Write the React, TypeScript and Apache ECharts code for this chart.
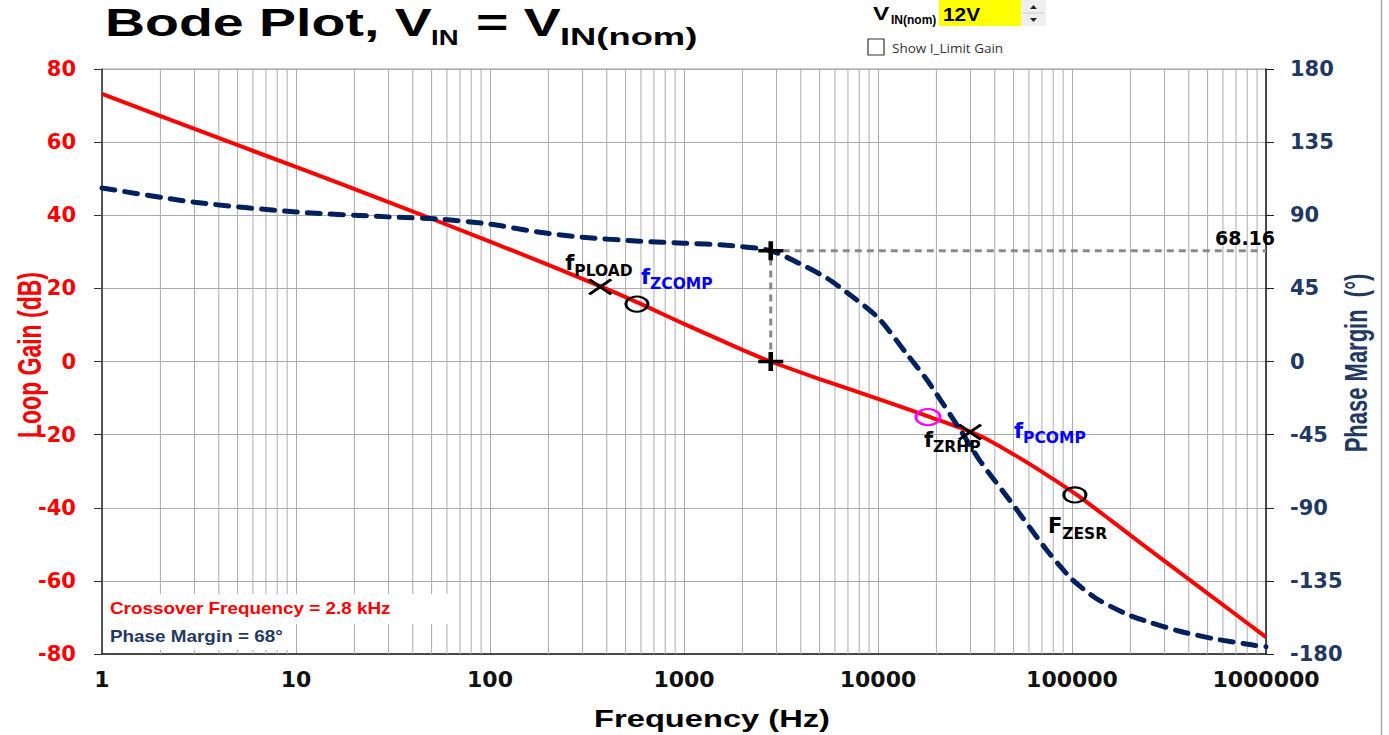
import React, { useEffect, useRef } from "react";
import * as echarts from "echarts";

// ---------- data ----------
const FREQ_MIN = 1;
const FREQ_MAX = 1000000;
const DECADES = [1, 10, 100, 1000, 10000, 100000];
const MINOR_MULTIPLIERS = [2, 3, 4, 5, 6, 7, 8, 9];

const GAIN_AXIS = [-80, 80, 20]; // min, max, interval
const PHASE_AXIS = [-180, 180, 45];

const GAIN_FREQ = [1, 3, 10, 30, 100, 200, 500, 1000, 2000, 2800, 5000, 10000, 18600, 33500, 50000, 74000, 106000, 160000, 220000, 500000, 1000000];
const GAIN_DB = [73.2, 63.6, 53.2, 43.6, 32.8, 26.4, 17.6, 10.3, 3.2, 0, -4.8, -10.2, -15.2, -20.3, -25.4, -31.0, -36.5, -43.6, -49.2, -63.4, -75.4];

const PHASE_FREQ = [1, 3, 10, 30, 57, 100, 181, 300, 593, 1000, 1660, 2800, 4300, 5500, 7000, 10000, 14000, 17900, 26500, 33500, 49600, 74000, 100000, 134000, 192000, 244000, 360000, 533000, 857000, 1000000];
const PHASE_DEG = [106.8, 98, 92, 89, 87.5, 84.5, 79.5, 76.5, 74, 72.8, 71.5, 68.16, 58, 51, 42, 27, 5, -11.4, -42, -61, -88, -116, -134, -146, -155.5, -160, -166, -170.5, -174.5, -175.5];

const CROSSOVER_FREQ = 2800;
const PHASE_MARGIN = 68.16;

const MARKER_NAMES = ["PLOAD", "ZCOMP", "ZRHP", "PCOMP", "ZESR"];
const MARKER_PREFIX = ["f", "f", "f", "f", "F"];
const MARKER_FREQ = [370, 572, 18100, 29800, 103500];
const MARKER_GAIN = [20.4, 15.7, -15.2, -19.3, -36.5];

const TITLE_PARTS = ["Bode Plot, V", "IN", "= V", "IN(nom)"];
const VIN_NOM = "12V";

// ---------- styles (not data) ----------
const RED = "#ff0000";
const NAVY = "#1f3864";
const PHASE_COLOR = "#002060";
const GRID_COLOR = "#acacac";
const BLUE = "#0000ff";

const markerStyle: Record<string, any> = {
  PLOAD: { kind: "x", color: "#000", labelColor: "#000", offset: [-35, -23] },
  ZCOMP: { kind: "o", color: "#000", labelColor: BLUE, offset: [4, -27] },
  ZRHP: { kind: "o", color: "#ff00ff", labelColor: "#000", offset: [-4, 23] },
  PCOMP: { kind: "x", color: "#000", labelColor: BLUE, offset: [44, -1] },
  ZESR: { kind: "o", color: "#000", labelColor: "#000", offset: [-27, 32] },
};

const X_PATH = "path://M0,0L22,15M22,0L0,15";
const PLUS_PATH = "path://M0,9L24,9M12,0L12,18";

function buildOption(): any {
  const minorFreqs: number[][] = [];
  DECADES.forEach((d) => MINOR_MULTIPLIERS.forEach((m) => minorFreqs.push([d * m, 0])));

  const markerData = MARKER_NAMES.map((name, i) => {
    const st = markerStyle[name];
    const isX = st.kind === "x";
    return {
      value: [MARKER_FREQ[i], MARKER_GAIN[i]],
      symbol: isX ? X_PATH : "circle",
      symbolSize: isX ? [22, 15] : name === "ZRHP" ? [24, 16] : [22, 15],
      itemStyle: { color: "rgba(0,0,0,0)", borderColor: st.color, borderWidth: isX ? 3 : 2.5, opacity: 1 },
      label: {
        show: true,
        position: "inside",
        align: "left",
        verticalAlign: "middle",
        offset: st.offset,
        formatter: `{f|${MARKER_PREFIX[i]}}{s|${name}}`,
        rich: {
          f: { fontFamily: "DejaVu Sans", fontWeight: "bold", fontSize: 21, color: st.labelColor, verticalAlign: "top", lineHeight: 22 },
          s: { fontFamily: "DejaVu Sans", fontWeight: "bold", fontSize: 15.5, color: st.labelColor, verticalAlign: "top", lineHeight: 15, padding: [10, 0, 0, 0] },
        },
      },
    };
  });

  const axisFont = { fontFamily: "DejaVu Sans", fontWeight: "bold" };
  const T = (extra: any) => ({ align: "left", verticalAlign: "middle", textAlign: "left", textVerticalAlign: "middle", ...extra });
  const TC = (extra: any) => ({ align: "center", verticalAlign: "middle", textAlign: "center", textVerticalAlign: "middle", ...extra });

  const graphic: any[] = [
    // title
    { type: "text", x: 105, y: 23, scaleX: 1.46, style: T({ text: TITLE_PARTS[0], font: "bold 38px 'Liberation Sans', Arial", fill: "#000" }) },
    { type: "text", x: 431, y: 37, scaleX: 1.25, style: T({ text: TITLE_PARTS[1], font: "bold 22px 'Liberation Sans', Arial", fill: "#000" }) },
    { type: "text", x: 476, y: 23, scaleX: 1.46, style: T({ text: TITLE_PARTS[2], font: "bold 38px 'Liberation Sans', Arial", fill: "#000" }) },
    { type: "text", x: 560, y: 37, scaleX: 1.58, style: T({ text: TITLE_PARTS[3], font: "bold 23px 'Liberation Sans', Arial", fill: "#000" }) },
    // VIN(nom) widget
    { type: "text", x: 873, y: 14, scaleX: 1.35, style: T({ text: "V", font: "bold 18px 'Liberation Sans', Arial", fill: "#000" }) },
    { type: "text", x: 891, y: 20, style: T({ text: "IN(nom)", font: "bold 12px 'Liberation Sans', Arial", fill: "#000" }) },
    { type: "rect", shape: { x: 939, y: 0, width: 82, height: 26 }, style: { fill: "#ffff00" } },
    { type: "text", x: 943, y: 14, scaleX: 1.1, style: T({ text: VIN_NOM, font: "bold 19px 'Liberation Sans', Arial", fill: "#000" }) },
    { type: "rect", shape: { x: 1021, y: 0, width: 25, height: 26 }, style: { fill: "#efefef" } },
    { type: "line", shape: { x1: 1023, y1: 13, x2: 1044, y2: 13 }, style: { stroke: "#c8c8c8", lineWidth: 1 } },
    { type: "polygon", shape: { points: [[1030, 9], [1037, 9], [1033.5, 5]] }, style: { fill: "#222" } },
    { type: "polygon", shape: { points: [[1030, 18], [1037, 18], [1033.5, 22]] }, style: { fill: "#222" } },
    { type: "rect", shape: { x: 868, y: 39, width: 16, height: 16 }, style: { fill: "#fff", stroke: "#333", lineWidth: 1.2 } },
    { type: "text", x: 892, y: 48, style: T({ text: "Show I_Limit Gain", font: "13.5px 'Open Sans', 'Noto Sans', sans-serif", fill: "#333" }) },
    // right page border
    { type: "line", shape: { x1: 1381.5, y1: 0, x2: 1381.5, y2: 735 }, style: { stroke: "#a8a8a8", lineWidth: 1.5 } },
    // axis names
    { type: "text", x: 29, y: 355, rotation: Math.PI / 2, scaleY: 1.42, z: 50, style: TC({ text: "Loop Gain (dB)", font: "bold 23px 'Liberation Sans', Arial", fill: RED }) },
    { type: "text", x: 1357, y: 363, rotation: Math.PI / 2, scaleY: 1.42, z: 50, style: TC({ text: "Phase Margin  (°)", font: "bold 22px 'Liberation Sans', Arial", fill: NAVY }) },
    { type: "text", x: 712, y: 719, scaleX: 1.42, z: 50, style: TC({ text: "Frequency (Hz)", font: "bold 23px 'Liberation Sans', Arial", fill: "#000" }) },
    // info boxes
    { type: "rect", z: 90, shape: { x: 103, y: 594, width: 345, height: 30 }, style: { fill: "#fff" } },
    { type: "rect", z: 90, shape: { x: 103, y: 624, width: 190, height: 26 }, style: { fill: "#fff" } },
    { type: "text", z: 91, x: 110, y: 609, scaleX: 1.18, style: T({ text: `Crossover Frequency = ${(CROSSOVER_FREQ / 1000).toFixed(1)} kHz`, font: "bold 16px 'Liberation Sans', Arial", fill: RED }) },
    { type: "text", z: 91, x: 110, y: 637, scaleX: 1.18, style: T({ text: `Phase Margin = ${Math.round(PHASE_MARGIN)}°`, font: "bold 16px 'Liberation Sans', Arial", fill: NAVY }) },
  ];

  return {
    animation: false,
    backgroundColor: "#fff",
    grid: { left: 102, right: 123, top: 69, bottom: 81, show: true, borderColor: "#9a9a9a", borderWidth: 1 },
    xAxis: {
      type: "log",
      logBase: 10,
      min: FREQ_MIN,
      max: FREQ_MAX,
      splitNumber: 6,
      axisLine: { show: true, onZero: false, lineStyle: { color: "#222", width: 1.5 } },
      axisTick: { show: false },
      axisLabel: { ...axisFont, fontSize: 22, color: "#111", margin: 14, formatter: (v: number) => String(Math.round(v)) },
      splitLine: { show: true, lineStyle: { color: GRID_COLOR, width: 1 } },
    },
    yAxis: [
      {
        type: "value",
        position: "left",
        min: GAIN_AXIS[0],
        max: GAIN_AXIS[1],
        interval: GAIN_AXIS[2],
        axisLine: { show: true, onZero: false, lineStyle: { color: "#333", width: 1.5 } },
        axisTick: { show: true, length: 8, lineStyle: { color: "#333" } },
        axisLabel: { ...axisFont, fontSize: 21, color: RED, margin: 26 },
        splitLine: { show: true, lineStyle: { color: GRID_COLOR, width: 1 } },
      },
      {
        type: "value",
        position: "right",
        min: PHASE_AXIS[0],
        max: PHASE_AXIS[1],
        interval: PHASE_AXIS[2],
        axisLine: { show: true, onZero: false, lineStyle: { color: "#222", width: 1.5 } },
        axisTick: { show: true, length: 8, lineStyle: { color: "#222" } },
        axisLabel: { ...axisFont, fontSize: 21, color: NAVY, margin: 24 },
        splitLine: { show: false },
      },
    ],
    graphic,
    series: [
      {
        type: "custom",
        name: "minorGrid",
        silent: true,
        z: 1,
        xAxisIndex: 0,
        yAxisIndex: 0,
        encode: { x: 0, y: 1 },
        data: minorFreqs,
        renderItem: (params: any, api: any) => {
          const p = api.coord([api.value(0), 0]);
          const cs = params.coordSys;
          return {
            type: "line",
            shape: { x1: p[0], y1: cs.y, x2: p[0], y2: cs.y + cs.height },
            style: { stroke: GRID_COLOR, lineWidth: 1 },
            silent: true,
          };
        },
      },
      {
        type: "line",
        name: "crossVertical",
        yAxisIndex: 1,
        z: 2,
        showSymbol: false,
        silent: true,
        data: [[CROSSOVER_FREQ, 0], [CROSSOVER_FREQ, PHASE_MARGIN]],
        lineStyle: { color: "#8a8a8a", width: 3, type: [7, 5] },
      },
      {
        type: "line",
        name: "pmHorizontal",
        yAxisIndex: 1,
        z: 2,
        showSymbol: false,
        silent: true,
        data: [[CROSSOVER_FREQ, PHASE_MARGIN], [FREQ_MAX, PHASE_MARGIN]],
        lineStyle: { color: "#8a8a8a", width: 3, type: [7, 5] },
      },
      {
        type: "line",
        name: "Loop Gain",
        yAxisIndex: 0,
        z: 3,
        showSymbol: false,
        smooth: 0.25,
        data: GAIN_FREQ.map((f, i) => [f, GAIN_DB[i]]),
        lineStyle: { color: RED, width: 4 },
      },
      {
        type: "line",
        name: "Phase",
        yAxisIndex: 1,
        z: 3,
        showSymbol: false,
        smooth: 0.25,
        data: PHASE_FREQ.map((f, i) => [f, PHASE_DEG[i]]),
        lineStyle: { color: PHASE_COLOR, width: 5, type: [13, 10], cap: "round" },
      },
      {
        type: "scatter",
        name: "crossMarkers",
        yAxisIndex: 1,
        z: 5,
        symbol: PLUS_PATH,
        symbolSize: [25, 19],
        itemStyle: { color: "rgba(0,0,0,0)", borderColor: "#000", borderWidth: 4, opacity: 1 },
        data: [[CROSSOVER_FREQ, 0], [CROSSOVER_FREQ, PHASE_MARGIN]],
      },
      {
        type: "scatter",
        name: "markers",
        yAxisIndex: 0,
        z: 5,
        itemStyle: { opacity: 1 },
        data: markerData,
      },
      {
        type: "scatter",
        name: "pmLabel",
        yAxisIndex: 1,
        z: 5,
        symbolSize: 0,
        itemStyle: { color: "rgba(0,0,0,0)", opacity: 1 },
        data: [
          {
            value: [FREQ_MAX, PHASE_MARGIN],
            label: {
              show: true,
              position: "inside",
              align: "center",
              verticalAlign: "middle",
              offset: [-21, -13],
              formatter: PHASE_MARGIN.toFixed(2),
              fontFamily: "DejaVu Sans",
              fontWeight: "bold",
              fontSize: 19,
              color: "#000",
            },
          },
        ],
      },
    ],
  };
}

export default function App() {
  const ref = useRef<HTMLDivElement>(null);
  useEffect(() => {
    if (!ref.current) return;
    const chart = echarts.init(ref.current, null, { renderer: "svg" });
    chart.setOption(buildOption());
    return () => chart.dispose();
  }, []);
  return (
    <div
      ref={ref}
      style={{ position: "fixed", left: 0, top: 0, width: 1389, height: 735, background: "#fff" }}
    />
  );
}
